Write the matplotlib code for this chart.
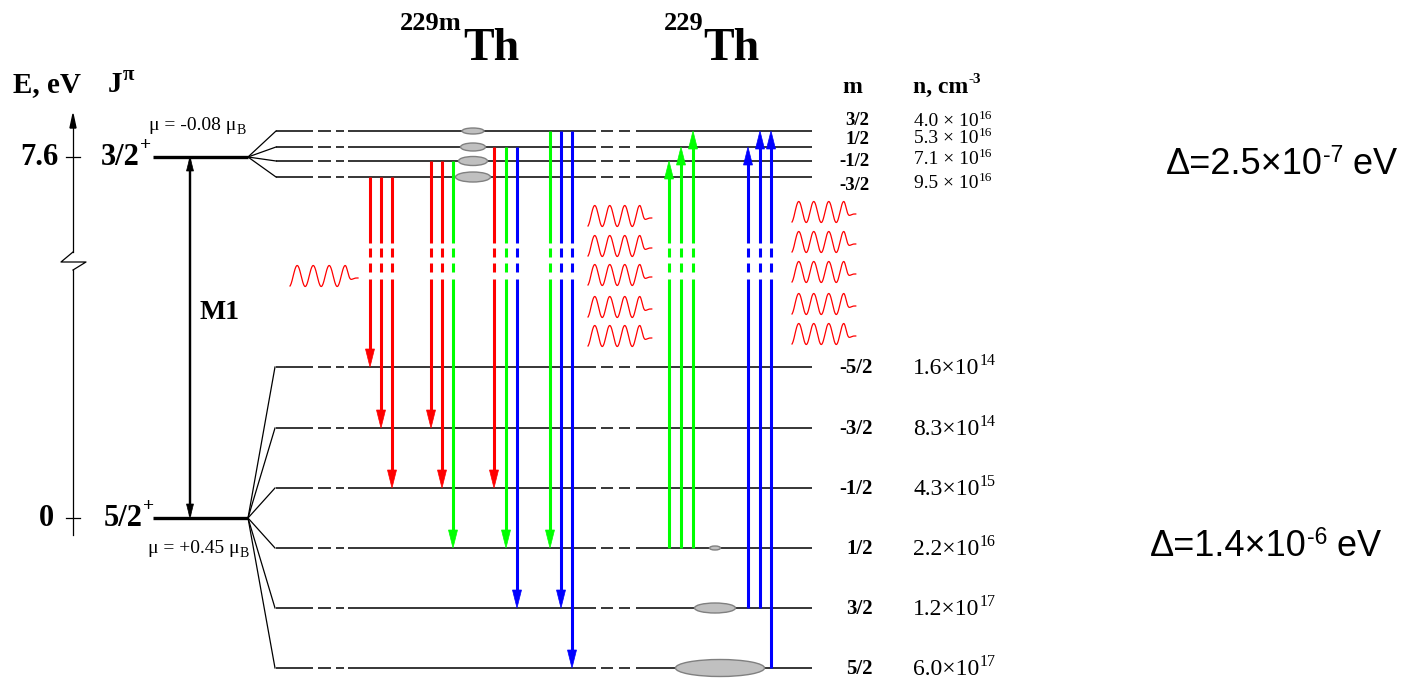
import numpy as np
import matplotlib
matplotlib.use("Agg")
import matplotlib.pyplot as plt
from matplotlib.patches import Ellipse, Polygon

SERIF = 'Liberation Serif'
SANS = 'Liberation Sans'

# ---------------- data ----------------
upper_m = ['3/2', '1/2', '-1/2', '-3/2']
upper_y = [131, 147, 161, 177]
upper_n = ['4.0', '5.3', '7.1', '9.5']
upper_exp = ['16', '16', '16', '16']
upper_pop_w = [22, 25, 29, 35]
upper_pop_h = [6, 8, 9, 10]

lower_m = ['-5/2', '-3/2', '-1/2', '1/2', '3/2', '5/2']
lower_y = [367, 428, 488, 548, 608, 668]
lower_n = ['1.6', '8.3', '4.3', '2.2', '1.2', '6.0']
lower_exp = ['14', '14', '15', '16', '17', '17']
lower_pop_w = [0, 0, 0, 11, 41, 89]
lower_pop_h = [0, 0, 0, 4, 10, 17]
lower_pop_x = [715, 715, 715, 715, 715, 720]

iso_level_y = [157, 518]          # 3/2+ (7.6 eV) and 5/2+ (0 eV)
iso_energy = ['7.6', '0']
iso_spin = ['3/2', '5/2']
iso_mu = ['-0.08', '+0.45']

emission_x = [370, 381, 392, 431, 442, 453, 494, 506, 517, 550, 561, 572]
emission_from = [3, 3, 3, 2, 2, 2, 1, 1, 1, 0, 0, 0]   # upper index
emission_to = [0, 1, 2, 1, 2, 3, 2, 3, 4, 3, 4, 5]     # lower index
emission_color = ['r', 'r', 'r', 'r', 'r', 'g', 'r', 'g', 'b', 'g', 'b', 'b']

absorption_x = [669, 681, 693, 748, 760, 771]
absorption_from = [3, 3, 3, 4, 4, 5]   # lower index
absorption_to = [2, 1, 0, 1, 0, 0]     # upper index
absorption_color = ['g', 'g', 'g', 'b', 'b', 'b']

wave_x0 = [290, 588, 588, 588, 588, 588, 792, 792, 792, 792, 792]
wave_yc = [276, 216, 246, 275, 307, 336, 212, 242, 272, 304, 334]

delta_mant = ['2.5', '1.4']
delta_exp = ['-7', '-6']
delta_y = [174, 556]
delta_x = [1166, 1150]

COL = {'r': '#ff0000', 'g': '#00ff00', 'b': '#0000ff'}

# ---------------- figure ----------------
W, H = 1404, 685
fig = plt.figure(figsize=(W / 100, H / 100), dpi=100)
ax = fig.add_axes([0, 0, 1, 1])
ax.set_xlim(0, W)
ax.set_ylim(H, 0)
ax.axis('off')
renderer = fig.canvas.get_renderer()

H_SEGS = [(276, 313), (318, 331), (336, 344), (348, 596), (601, 613), (619, 630), (636, 812)]
V_GAPS = [(243, 248), (257, 263), (272, 279)]


def level(y, lw=1.1):
    for a, b in H_SEGS:
        ax.plot([a, b], [y, y], color='black', lw=lw, solid_capstyle='butt', zorder=2)


def vline_gapped(x, ya, yb, color, lw):
    lo, hi = min(ya, yb), max(ya, yb)
    cur = lo
    for g0, g1 in V_GAPS:
        if g0 > cur and g1 < hi:
            ax.plot([x, x], [cur, g0], color=color, lw=lw, solid_capstyle='butt', zorder=4)
            cur = g1
    ax.plot([x, x], [cur, hi], color=color, lw=lw, solid_capstyle='butt', zorder=4)


def arrow(x, y0, y1, color, lw=2.2, hw=9, hl=18, gaps=True):
    d = 1 if y1 > y0 else -1
    base = y1 - d * hl
    if gaps:
        vline_gapped(x, y0, base + d * 2, color, lw)
    else:
        ax.plot([x, x], [y0, base + d * 2], color=color, lw=lw, solid_capstyle='butt', zorder=4)
    ax.add_patch(Polygon([(x - hw / 2, base), (x + hw / 2, base), (x, y1)],
                         closed=True, facecolor=color, edgecolor=color, lw=0.5, zorder=5))


def wave(x0, yc, lam=15.0, A=10.5, s=0.45, npk=4, tail=0.8):
    t_end = s + (npk - 1) + tail
    t = np.linspace(0, t_end, 400)
    tp = s + (npk - 1)
    env = np.where(t <= tp, 1.0, np.exp(-((t - tp) / 0.32) ** 2))
    y = yc - A * np.sin(2 * np.pi * (t - s + 0.25)) * env + 2.0 * (1 - env)
    ax.plot(x0 + t * lam, y, color='#ff0000', lw=0.9, zorder=3)


def rich(x, y, parts, family=SERIF, weight='normal'):
    """parts: list of (string, fontsize, rise_px); placed left to right on baseline y."""
    cx = x
    inv = ax.transData.inverted()
    for s, fs, rise in parts:
        t = ax.text(cx, y - rise, s, fontfamily=family, fontweight=weight, fontsize=fs,
                    ha='left', va='baseline')
        bb = t.get_window_extent(renderer)
        cx = inv.transform((bb.x1, bb.y0))[0]
    return cx


# energy axis
ax.plot([73, 73], [127, 252], color='black', lw=0.9)
ax.plot([73, 61, 86, 73], [252, 262, 262, 270], color='black', lw=0.9)
ax.plot([73, 73], [270, 535], color='black', lw=0.9)
ax.add_patch(Polygon([(70, 128), (76, 128), (73, 114)], closed=True, color='black'))
for yy in iso_level_y:
    ax.plot([66, 80], [yy, yy], color='black', lw=0.9)

# isomer / ground levels with fans
for yy in iso_level_y:
    ax.plot([153, 248], [yy, yy], color='black', lw=2.4, solid_capstyle='butt', zorder=3)
for yy in upper_y:
    ax.plot([248, 276], [iso_level_y[0], yy], color='black', lw=0.9)
for yy in lower_y:
    ax.plot([248, 275], [iso_level_y[1], yy], color='black', lw=0.9)

for yy in upper_y + lower_y:
    level(yy)

# populations
for w, h, yy in zip(upper_pop_w, upper_pop_h, upper_y):
    ax.add_patch(Ellipse((473, yy), w, h, facecolor='#c0c0c0', edgecolor='#808080', lw=1, zorder=3))
for w, h, xx, yy in zip(lower_pop_w, lower_pop_h, lower_pop_x, lower_y):
    if w > 0:
        ax.add_patch(Ellipse((xx, yy), w, h, facecolor='#c0c0c0', edgecolor='#808080', lw=1, zorder=3))

# M1 arrow
arrow(190, iso_level_y[1] - 2, iso_level_y[0], 'black', lw=1.6, hw=7, hl=14, gaps=False)
arrow(190, iso_level_y[0] + 2, iso_level_y[1], 'black', lw=1.6, hw=7, hl=14, gaps=False)

# transitions
for x, f, t, c in zip(emission_x, emission_from, emission_to, emission_color):
    arrow(x, upper_y[f], lower_y[t], COL[c])
for x, f, t, c in zip(absorption_x, absorption_from, absorption_to, absorption_color):
    arrow(x, lower_y[f], upper_y[t], COL[c])

# photons
for x0, yc in zip(wave_x0, wave_yc):
    wave(x0, yc, lam=16.0 if x0 == 290 else 15.0)

# ---------------- texts ----------------
ax.text(13, 92, 'E, eV', fontfamily=SERIF, fontweight='bold', fontsize=21, va='baseline', ha='left')
rich(108, 92, [('J', 21, 0), ('π', 15, 12)], weight='bold')
for yy, e in zip(iso_level_y, iso_energy):
    ax.text(59 if e != '0' else 54, yy + 8, e, fontfamily=SERIF, fontweight='bold', fontsize=22,
            va='baseline', ha='right')
for yy, sp in zip(iso_level_y, iso_spin):
    rich(101 if sp == '3/2' else 104, yy + 8, [(sp, 22, 0), ('+', 14, 15)], weight='bold')
rich(149, 130, [('μ = ' + iso_mu[0] + ' μ', 14, 0), ('B', 10, -4)])
rich(148, 553, [('μ = ' + iso_mu[1] + ' μ', 14, 0), ('B', 10, -4)])
ax.text(200, 319, 'M1', fontfamily=SERIF, fontweight='bold', fontsize=20, va='baseline', ha='left')

# titles
rich(400, 60, [('229m', 19, 30), (' ', 4, 0), ('Th', 33, 0)], weight='bold')
rich(664, 60, [('229', 19, 30), ('Th', 33, 0)], weight='bold')

# column headers
ax.text(852, 93, 'm', fontfamily=SERIF, fontweight='bold', fontsize=17, va='baseline', ha='center')
rich(913, 93, [('n, cm', 17, 0), ('-3', 11, 10)], weight='bold')

# m labels and densities
for m, yy in zip(upper_m, [125, 144, 166, 190]):
    ax.text(869, yy, m, fontfamily=SERIF, fontweight='bold', fontsize=13.5, va='baseline', ha='right')
for n, e, yy in zip(upper_n, upper_exp, [126, 143, 164, 188]):
    rich(914, yy, [(n + ' × 10', 14, 0), (e, 9.5, 7)])
for m, yy in zip(lower_m, lower_y):
    ax.text(873, yy + 6, m, fontfamily=SERIF, fontweight='bold', fontsize=15, va='baseline', ha='right')
for n, e, yy in zip(lower_n, lower_exp, lower_y):
    rich(913, yy + 7, [(n + '×10', 17, 0), (e, 11.5, 9)])

# splittings
for xx, yy, mnt, ex in zip(delta_x, delta_y, delta_mant, delta_exp):
    rich(xx, yy, [('Δ=' + mnt + '×10', 26, 0), (ex, 16.5, 12), (' eV', 26, 0)], family=SANS)

fig.savefig('out.png', dpi=100)
